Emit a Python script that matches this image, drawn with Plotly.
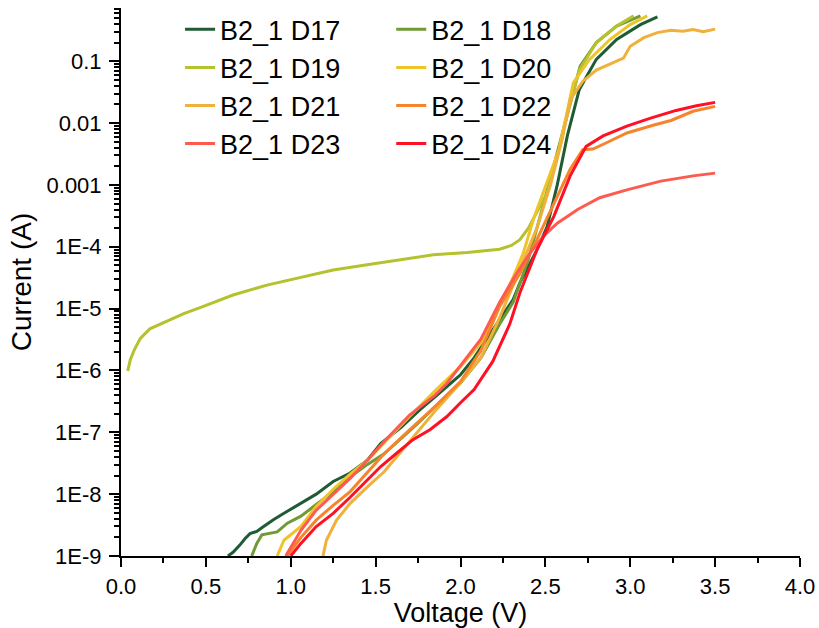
import plotly.graph_objects as go

# Voltage (V) / current (A) readings for each diode
v_d17 = [0.63, 0.66, 0.70, 0.73, 0.76, 0.80, 0.84, 0.90, 0.96, 1.06, 1.15, 1.25, 1.35, 1.45, 1.53, 1.65,
         1.76, 1.92, 2.0, 2.08, 2.19, 2.31, 2.35, 2.45, 2.51, 2.57, 2.63, 2.70, 2.80, 2.92, 3.06, 3.16]
i_d17 = [1.0e-9, 1.15e-9, 1.5e-9, 1.9e-9, 2.3e-9, 2.5e-9, 3.0e-9, 3.9e-9, 4.9e-9, 7.1e-9, 1.0e-8, 1.6e-8,
         2.2e-8, 3.5e-8, 6.6e-8, 1.2e-7, 2.3e-7, 5.5e-7, 8.5e-7, 1.6e-6, 4.6e-6, 1.4e-5, 2.6e-5, 8.9e-5,
         2.1e-4, 1.0e-3, 6.3e-3, 3.5e-2, 0.107, 0.224, 0.39, 0.52]

v_d18 = [0.77, 0.80, 0.83, 0.86, 0.92, 0.98, 1.06, 1.15, 1.25, 1.35, 1.45, 1.55, 1.65, 1.75, 1.85, 2.0,
         2.12, 2.23, 2.31, 2.40, 2.50, 2.60, 2.705, 2.80, 2.92, 3.06]
i_d18 = [1.0e-9, 1.6e-9, 2.2e-9, 2.3e-9, 2.45e-9, 3.4e-9, 4.4e-9, 6.8e-9, 1.1e-8, 1.9e-8, 3.0e-8, 4.5e-8,
         7.9e-8, 1.4e-7, 2.6e-7, 6.3e-7, 1.6e-6, 5.6e-6, 1.26e-5, 6.3e-5, 6.3e-4, 7.1e-3, 8.3e-2, 0.2,
         0.37, 0.54]

v_d19 = [0.04, 0.055, 0.08, 0.114, 0.17, 0.27, 0.37, 0.47, 0.66, 0.86, 1.06, 1.25, 1.45, 1.65, 1.84, 2.04,
         2.23, 2.30, 2.35, 2.40, 2.46, 2.51, 2.58, 2.64, 2.70, 2.80, 2.92, 3.02]
i_d19 = [9.8e-7, 1.5e-6, 2.2e-6, 3.3e-6, 4.7e-6, 6.2e-6, 8.3e-6, 1.05e-5, 1.66e-5, 2.4e-5, 3.2e-5, 4.2e-5,
         5.1e-5, 6.2e-5, 7.4e-5, 8.1e-5, 9.1e-5, 1.05e-4, 1.3e-4, 2.0e-4, 4.0e-4, 7.4e-4, 3.7e-3, 1.8e-2,
         7.2e-2, 0.2, 0.37, 0.54]

v_d20 = [0.92, 0.96, 1.06, 1.15, 1.25, 1.35, 1.45, 1.55, 1.70, 1.85, 2.0, 2.12, 2.23, 2.31, 2.37, 2.43,
         2.51, 2.58, 2.665, 2.76, 2.88, 3.0, 3.10]
i_d20 = [1.0e-9, 1.8e-9, 3.0e-9, 6.3e-9, 1.2e-8, 2.1e-8, 3.5e-8, 6.8e-8, 1.8e-7, 4.7e-7, 1.15e-6, 2.8e-6,
         1.1e-5, 3.2e-5, 7.9e-5, 2.8e-4, 1.07e-3, 3.7e-3, 4.5e-2, 0.107, 0.224, 0.39, 0.54]

v_d21 = [1.19, 1.21, 1.27, 1.35, 1.45, 1.55, 1.70, 1.85, 2.0, 2.12, 2.23, 2.35, 2.45, 2.53, 2.60, 2.646,
         2.72, 2.80, 2.92, 2.96, 3.0, 3.08, 3.16, 3.24, 3.31, 3.37, 3.43, 3.5]
i_d21 = [1.0e-9, 1.8e-9, 3.8e-9, 7.1e-9, 1.3e-8, 2.3e-8, 7.1e-8, 2.2e-7, 6.3e-7, 1.6e-6, 7.1e-6, 4.5e-5,
         2.0e-4, 1.0e-3, 5.6e-3, 2.4e-2, 4.7e-2, 7.2e-2, 0.1, 0.112, 0.174, 0.24, 0.29, 0.316, 0.305,
         0.324, 0.30, 0.33]

v_d22 = [0.98, 1.06, 1.15, 1.25, 1.35, 1.45, 1.55, 1.70, 1.85, 2.0, 2.12, 2.23, 2.35, 2.45, 2.55, 2.646,
         2.72, 2.78, 2.86, 2.98, 3.14, 3.24, 3.37, 3.5]
i_d22 = [1.0e-9, 2.0e-9, 3.8e-9, 6.6e-9, 1.1e-8, 2.2e-8, 4.5e-8, 1.1e-7, 2.6e-7, 6.6e-7, 2.1e-6, 1.07e-5,
         3.7e-5, 1.3e-4, 5.1e-4, 1.8e-3, 3.7e-3, 3.8e-3, 4.8e-3, 6.9e-3, 9.3e-3, 1.1e-2, 1.55e-2, 1.86e-2]

v_d23 = [0.97, 1.06, 1.15, 1.25, 1.35, 1.45, 1.55, 1.70, 1.85, 1.92, 2.0, 2.12, 2.23, 2.33, 2.41, 2.49,
         2.57, 2.69, 2.82, 2.98, 3.18, 3.37, 3.5]
i_d23 = [1.0e-9, 2.6e-9, 5.5e-9, 1.0e-8, 1.8e-8, 3.5e-8, 7.1e-8, 1.9e-7, 4.0e-7, 6.2e-7, 1.2e-6, 3.2e-6,
         1.26e-5, 3.7e-5, 7.9e-5, 1.5e-4, 2.4e-4, 4.0e-4, 6.2e-4, 8.3e-4, 1.15e-3, 1.4e-3, 1.55e-3]

v_d24 = [1.0, 1.06, 1.15, 1.25, 1.35, 1.45, 1.53, 1.62, 1.72, 1.82, 1.92, 2.0, 2.08, 2.19, 2.29, 2.35,
         2.45, 2.55, 2.646, 2.74, 2.84, 2.98, 3.12, 3.27, 3.39, 3.5]
i_d24 = [1.0e-9, 1.6e-9, 3.0e-9, 4.9e-9, 8.9e-9, 1.66e-8, 2.8e-8, 4.5e-8, 7.6e-8, 1.1e-7, 1.8e-7, 3.0e-7,
         4.9e-7, 1.4e-6, 5.6e-6, 1.8e-5, 8.9e-5, 3.1e-4, 1.4e-3, 4.2e-3, 6.2e-3, 8.9e-3, 1.2e-2, 1.6e-2,
         1.9e-2, 2.16e-2]

names = ["B2_1 D17", "B2_1 D18", "B2_1 D19", "B2_1 D20",
         "B2_1 D21", "B2_1 D22", "B2_1 D23", "B2_1 D24"]
colors = ["#1f5b33", "#6f9a35", "#b5c12d", "#efc428",
          "#f0b13a", "#f7842a", "#ff5a50", "#ff1025"]
voltages = [v_d17, v_d18, v_d19, v_d20, v_d21, v_d22, v_d23, v_d24]
currents = [i_d17, i_d18, i_d19, i_d20, i_d21, i_d22, i_d23, i_d24]

y_tickvals = [1e-9, 1e-8, 1e-7, 1e-6, 1e-5, 1e-4, 1e-3, 1e-2, 1e-1]
y_ticktext = ["1E-9", "1E-8", "1E-7", "1E-6", "1E-5", "1E-4", "0.001", "0.01", "0.1"]

FONT = "Liberation Sans, Arial, sans-serif"

fig = go.Figure()

for k, (name, color, v, i) in enumerate(zip(names, colors, voltages, currents)):
    fig.add_trace(go.Scatter(
        x=v, y=i,
        mode='lines',
        name=name,
        line=dict(color=color, width=3),
        # even entries in left column, odd in right column
        legend='legend' if k % 2 == 0 else 'legend2'
    ))

legend_style = dict(
    font=dict(family=FONT, size=27, color='black'),
    bgcolor='rgba(0,0,0,0)',
    borderwidth=0,
    xanchor='left', yanchor='top',
    tracegroupgap=0,
)

fig.update_layout(
    width=819, height=628,
    paper_bgcolor='white',
    plot_bgcolor='white',
    font=dict(family=FONT, color='black'),
    margin=dict(l=121, r=19, t=8, b=72, autoexpand=False),
    legend=dict(x=0.087, y=1.005, **legend_style),
    legend2=dict(x=0.398, y=1.005, **legend_style),
    xaxis=dict(
        title=dict(text='Voltage (V)', font=dict(size=27), standoff=3),
        range=[0, 4],
        tick0=0, dtick=0.5, tickformat='.1f',
        ticks='outside', ticklen=9, tickwidth=2, tickcolor='black',
        tickfont=dict(size=22), ticklabelstandoff=1,
        showline=True, linewidth=2, linecolor='black',
        showgrid=False, zeroline=False, automargin=False,
        minor=dict(dtick=0.25, ticks='outside', ticklen=5, tickwidth=2, tickcolor='black', showgrid=False),
    ),
    yaxis=dict(
        title=dict(text='Current (A)', font=dict(size=28), standoff=7),
        type='log',
        range=[-9, -0.14],
        tickmode='array', tickvals=y_tickvals, ticktext=y_ticktext,
        ticks='outside', ticklen=10, tickwidth=2, tickcolor='black',
        tickfont=dict(size=22), ticklabelstandoff=3,
        showline=True, linewidth=2, linecolor='black',
        showgrid=False, zeroline=False, automargin=False,
        minor=dict(dtick='D1', ticks='outside', ticklen=5, tickwidth=1.5, tickcolor='black', showgrid=False),
    ),
)

# drop the default page margin so the figure fills the window
fig.write_html("out.html", config={'displayModeBar': False},
               post_script="document.body.style.margin='0';")
